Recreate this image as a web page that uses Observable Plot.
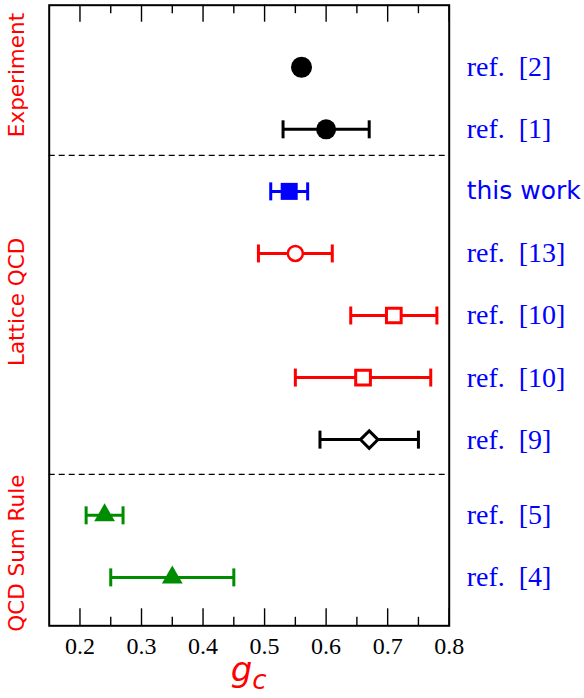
<!DOCTYPE html>
<html><head><meta charset="utf-8">
<script src="https://cdn.jsdelivr.net/npm/d3@7"></script>
<script src="https://cdn.jsdelivr.net/npm/@observablehq/plot@0.6"></script>
<style>body{margin:0;background:#fff}</style>
</head><body><div id="chart"></div>
<script>
// ---- data ----
const labels = ["ref.\u00a0\u00a0[2]","ref.\u00a0\u00a0[1]","this work","ref.\u00a0\u00a0[13]","ref.\u00a0\u00a0[10]","ref.\u00a0\u00a0[10]","ref.\u00a0\u00a0[9]","ref.\u00a0\u00a0[5]","ref.\u00a0\u00a0[4]"];
const values = [0.56, 0.60, 0.54, 0.55, 0.71, 0.66, 0.67, 0.24, 0.35];
const errors = [0.00, 0.07, 0.03, 0.06, 0.07, 0.11, 0.08, 0.03, 0.10];
const rowPos = [9, 8, 7, 6, 5, 4, 3, 1.78, 0.78];
const groups = ["Experiment", "Lattice QCD", "QCD Sum Rule"];
const groupCenters = [8.875, 5.22, 1.17];
const separators = [7.58, 2.44];
const majorTicks = [0.2, 0.3, 0.4, 0.5, 0.6, 0.7, 0.8];
const minorTicks = [0.25, 0.35, 0.45, 0.55, 0.65, 0.75];

// ---- styles (by row) ----
const barColors = ["black","black","blue","red","red","red","black","#008c00","#008c00"];
const SERIF = "'Liberation Serif', 'Times New Roman', Times, serif";
const SANS = "'DejaVu Sans', sans-serif";

const rows = labels.map((label, i) => ({
  i, label, value: values[i], lo: values[i] - errors[i], hi: values[i] + errors[i], y: rowPos[i], err: errors[i]
}));
const grp = groups.map((g, i) => ({g, y: groupCenters[i]}));

const W = 584, H = 698, mT = 4.7, mB = 72.7, mL = 48.7, mR = 135.3;
const innerH = H - mT - mB;

const capSymbol = {draw(ctx, size) { const h = Math.sqrt(size / Math.PI); ctx.moveTo(0, -h); ctx.lineTo(0, h); }};
const sel = (idx) => rows.filter(d => idx.includes(d.i));
const withBars = rows.filter(d => d.err > 0);

const plot = Plot.plot({
  width: W, height: H,
  marginTop: mT, marginBottom: mB, marginLeft: mL, marginRight: mR,
  x: {domain: [0.15, 0.8], axis: null},
  y: {domain: [0, 10], axis: null},
  color: {type: "identity"},
  style: {fontFamily: SANS, background: "white", overflow: "visible"},
  marks: [
    Plot.ruleY(separators, {y: d => d, stroke: "black", strokeWidth: 1.3, strokeDasharray: "6,4"}),
    // ticks (inward, bottom and top)
    Plot.ruleX(majorTicks, {x: d => d, insetTop: innerH - 17, stroke: "black", strokeWidth: 1.4}),
    Plot.ruleX(minorTicks, {x: d => d, insetTop: innerH - 8.5, stroke: "black", strokeWidth: 1.4}),
    Plot.ruleX(majorTicks, {x: d => d, insetBottom: innerH - 17, stroke: "black", strokeWidth: 1.4}),
    Plot.ruleX(minorTicks, {x: d => d, insetBottom: innerH - 8.5, stroke: "black", strokeWidth: 1.4}),
    Plot.text(majorTicks, {x: d => d, text: d => d.toFixed(1), frameAnchor: "bottom", dy: 11, lineAnchor: "top",
      fontSize: 24, fontFamily: SERIF, fill: "black"}),
    // error bars
    Plot.ruleY(withBars, {y: "y", x1: "lo", x2: "hi", stroke: d => barColors[d.i], strokeWidth: 3}),
    Plot.dot(withBars, {x: "lo", y: "y", symbol: capSymbol, r: 9, stroke: d => barColors[d.i], strokeWidth: 3}),
    Plot.dot(withBars, {x: "hi", y: "y", symbol: capSymbol, r: 9, stroke: d => barColors[d.i], strokeWidth: 3}),
    // markers
    Plot.dot(sel([0]), {x: "value", y: "y", symbol: "circle", r: 10.5, fill: "black", stroke: null}),
    Plot.dot(sel([1]), {x: "value", y: "y", symbol: "circle", r: 10, fill: "black", stroke: null}),
    Plot.dot(sel([2]), {x: "value", y: "y", symbol: "square", r: 9.6, fill: "blue", stroke: null}),
    Plot.dot(sel([3]), {x: "value", y: "y", symbol: "circle", r: 7.5, fill: "white", stroke: "red", strokeWidth: 2.5}),
    Plot.dot(sel([4,5]), {x: "value", y: "y", symbol: "square", r: 8.3, fill: "white", stroke: "red", strokeWidth: 3}),
    Plot.dot(sel([6]), {x: "value", y: "y", symbol: "diamond2", r: 7.9, fill: "white", stroke: "black", strokeWidth: 3}),
    Plot.dot(sel([7,8]), {x: "value", y: "y", symbol: "triangle", r: 7.7, fill: "#008c00", stroke: null}),
    // right labels
    Plot.text(rows.filter(d => d.i !== 2), {y: "y", text: "label", frameAnchor: "right", dx: 17.5, textAnchor: "start",
      fill: "blue", fontSize: 28, fontFamily: SERIF}),
    Plot.text(sel([2]), {y: "y", text: "label", frameAnchor: "right", dx: 17.5, textAnchor: "start",
      fill: "blue", fontSize: 25, fontFamily: SANS}),
    // group labels
    Plot.text(grp, {y: "y", text: "g", frameAnchor: "left", dx: -32, rotate: -90, textAnchor: "middle",
      fill: "red", fontSize: 21.5, fontFamily: SANS}),
    Plot.frame({stroke: "black", strokeWidth: 2})
  ]
});

// axis title g_c
const svg = d3.select(plot);
const t = svg.append("text")
  .attr("x", (mL + (W - mR)) / 2).attr("y", 680.5)
  .attr("text-anchor", "middle")
  .attr("fill", "red")
  .attr("font-family", SANS)
  .attr("font-style", "oblique");
t.append("tspan").attr("font-size", 34).text("g");
t.append("tspan").attr("font-size", 26).attr("dy", 8).text("c");

document.getElementById("chart").appendChild(plot);
</script>
</body></html>
